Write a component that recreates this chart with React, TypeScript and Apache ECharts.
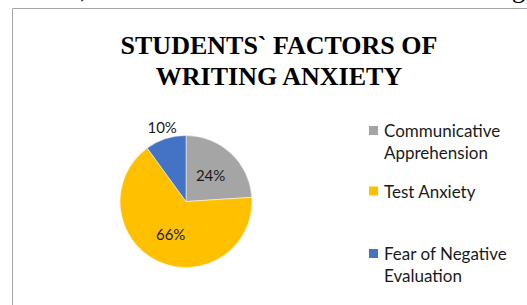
import React, { useEffect, useRef } from "react";
import * as echarts from "echarts";

const categories = ["Communicative\nApprehension", "Test Anxiety", "Fear of Negative\nEvaluation"];
const values = [24, 66, 10];
const colors = ["#A5A5A5", "#FFC000", "#4472C4"];
const titleText = "STUDENTS` FACTORS OF\nWRITING ANXIETY";
const pageText = "Hence, the briefer illustration is on the following figure:";

export default function App() {
  const ref = useRef<HTMLDivElement>(null);
  useEffect(() => {
    document.body.style.margin = "0";
    const chart = echarts.init(ref.current!, null, { renderer: "svg" });
    const legendTops = [92.5, 175, 215.5];
    chart.setOption({
      animation: false,
      backgroundColor: "#ffffff",
      color: colors,
      title: {
        text: titleText,
        left: 274,
        top: 25,
        textAlign: "center",
        textStyle: {
          fontFamily: "Liberation Serif",
          fontWeight: "bold",
          fontSize: 26,
          lineHeight: 31,
          color: "#000000",
        },
      },
      legend: categories.map((c, i) => ({
        data: [c],
        orient: "vertical",
        left: 362,
        top: legendTops[i],
        icon: "rect",
        itemWidth: 11,
        itemHeight: 11,
        selectedMode: false,
        formatter: (name: string) => (name.indexOf("\n") >= 0 ? "\n" + name : name),
        textStyle: {
          fontFamily: "Lato",
          fontSize: 17,
          lineHeight: 22,
          color: "#1a1a1a",
        },
      })),
      graphic: [
        {
          type: "text",
          left: 13,
          top: -24,
          style: {
            text: pageText,
            font: "26.2px 'Liberation Serif'",
            fill: "#000000",
          },
        },
        {
          type: "line",
          shape: { x1: 12.5, y1: 8.5, x2: 527, y2: 8.5 },
          style: { stroke: "#A6A6A6", lineWidth: 1 },
        },
        {
          type: "line",
          shape: { x1: 12.5, y1: 8.5, x2: 12.5, y2: 305 },
          style: { stroke: "#A6A6A6", lineWidth: 1 },
        },
      ],
      series: [
        {
          type: "pie",
          center: [186, 201.5],
          radius: 66,
          startAngle: 90,
          clockwise: true,
          label: {
            show: true,
            position: "inside",
            formatter: "{d}%",
            fontFamily: "Lato",
            fontSize: 15,
            color: "#1a1a1a",
          },
          labelLine: { show: false },
          itemStyle: { borderColor: "#ffffff", borderWidth: 0.5 },
          emphasis: { disabled: true },
          data: categories.map((c, i) =>
            i === 2
              ? {
                  name: c,
                  value: values[i],
                  label: { position: "outside", distanceToLabelLine: -15 },
                  labelLine: { show: false, length: 12, length2: 0 },
                }
              : { name: c, value: values[i] }
          ),
        },
      ],
    });
    return () => chart.dispose();
  }, []);
  return <div ref={ref} style={{ width: 527, height: 305 }} />;
}
